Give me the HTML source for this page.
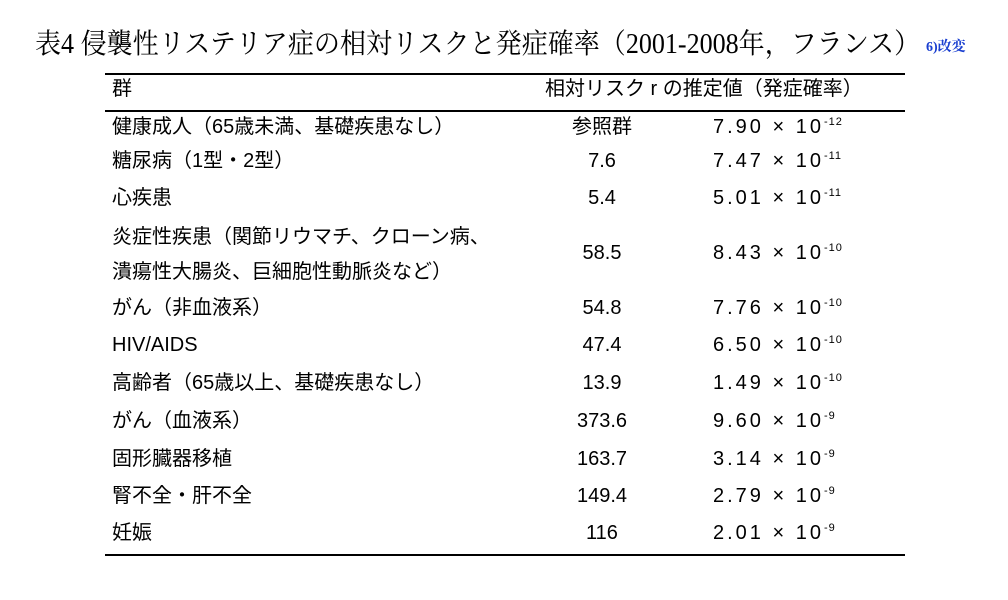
<!DOCTYPE html>
<html><head><meta charset="utf-8"><style>
body{margin:0;width:1008px;height:600px;background:#fff;position:relative;overflow:hidden;font-family:"Liberation Sans","Noto Sans CJK JP",sans-serif;color:#000}
.t{position:absolute;font-size:20px;line-height:20px;white-space:nowrap}
.c{text-align:center;width:140px;left:532px}
.n{left:713px;letter-spacing:3px}
.n sup{font-size:11px;position:relative;top:-8px;vertical-align:baseline;line-height:0;letter-spacing:1px}
.l{position:absolute;left:105px;width:800px;background:#000}
</style></head><body>
<div style="position:absolute;left:35px;top:29px;font-family:'Liberation Serif','Noto Serif CJK SC',serif;font-size:28px;line-height:32px;white-space:nowrap;transform:scaleX(0.93);transform-origin:left;color:#000">表4 侵襲性リステリア症の相対リスクと発症確率（2001-2008年，フランス）</div>
<div style="position:absolute;left:926px;top:36px;font-family:'Liberation Serif','Noto Serif CJK SC',serif;font-size:14px;font-weight:bold;color:#1a3fd0;white-space:nowrap">6)改変</div>
<div class="l" style="top:73px;height:2px"></div>
<div class="l" style="top:110px;height:2px"></div>
<div class="l" style="top:554px;height:2px"></div>
<div class="t" style="left:112px;top:79px">群</div>
<div class="t" style="left:545px;top:79px">相対リスク r の推定値（発症確率）</div>

<div class="t" style="left:112px;top:117px">健康成人（65歳未満、基礎疾患なし）</div>
<div class="t c" style="top:117px">参照群</div>
<div class="t n" style="top:117px">7.90 × 10<sup>-12</sup></div>

<div class="t" style="left:112px;top:151px">糖尿病（1型・2型）</div>
<div class="t c" style="top:151px">7.6</div>
<div class="t n" style="top:151px">7.47 × 10<sup>-11</sup></div>

<div class="t" style="left:112px;top:188px">心疾患</div>
<div class="t c" style="top:188px">5.4</div>
<div class="t n" style="top:188px">5.01 × 10<sup>-11</sup></div>

<div class="t" style="left:112px;top:227px">炎症性疾患（関節リウマチ、クローン病、</div>
<div class="t" style="left:112px;top:262px">潰瘍性大腸炎、巨細胞性動脈炎など）</div>
<div class="t c" style="top:243px">58.5</div>
<div class="t n" style="top:243px">8.43 × 10<sup>-10</sup></div>

<div class="t" style="left:112px;top:298px">がん（非血液系）</div>
<div class="t c" style="top:298px">54.8</div>
<div class="t n" style="top:298px">7.76 × 10<sup>-10</sup></div>

<div class="t" style="left:112px;top:335px">HIV/AIDS</div>
<div class="t c" style="top:335px">47.4</div>
<div class="t n" style="top:335px">6.50 × 10<sup>-10</sup></div>

<div class="t" style="left:112px;top:373px">高齢者（65歳以上、基礎疾患なし）</div>
<div class="t c" style="top:373px">13.9</div>
<div class="t n" style="top:373px">1.49 × 10<sup>-10</sup></div>

<div class="t" style="left:112px;top:411px">がん（血液系）</div>
<div class="t c" style="top:411px">373.6</div>
<div class="t n" style="top:411px">9.60 × 10<sup>-9</sup></div>

<div class="t" style="left:112px;top:449px">固形臓器移植</div>
<div class="t c" style="top:449px">163.7</div>
<div class="t n" style="top:449px">3.14 × 10<sup>-9</sup></div>

<div class="t" style="left:112px;top:486px">腎不全・肝不全</div>
<div class="t c" style="top:486px">149.4</div>
<div class="t n" style="top:486px">2.79 × 10<sup>-9</sup></div>

<div class="t" style="left:112px;top:523px">妊娠</div>
<div class="t c" style="top:523px">116</div>
<div class="t n" style="top:523px">2.01 × 10<sup>-9</sup></div>
</body></html>
